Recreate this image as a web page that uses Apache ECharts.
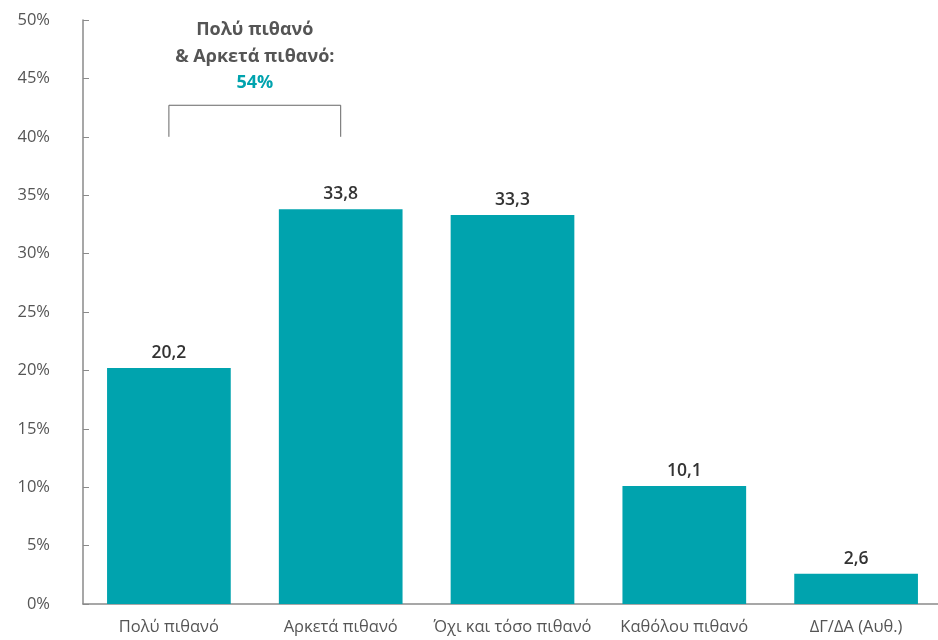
<!DOCTYPE html>
<html><head><meta charset="utf-8">
<script src="https://cdn.jsdelivr.net/npm/echarts@6/dist/echarts.min.js"></script>
<style>html,body{margin:0;padding:0;background:#fff}#c{width:938px;height:640px}</style>
</head><body><div id="c"></div>
<script>
const categories = ["Πολύ πιθανό", "Αρκετά πιθανό", "Όχι και τόσο πιθανό", "Καθόλου πιθανό", "ΔΓ/ΔΑ (Αυθ.)"];
const values = [20.2, 33.8, 33.3, 10.1, 2.6];
const annotationLines = ["Πολύ πιθανό", "& Αρκετά πιθανό:"];
const annotationTotal = "54%";
const bracketRange = [40, 42.7];

const FONT = "'Open Sans'";
const chart = echarts.init(document.getElementById('c'));
chart.setOption({
  animation: false,
  grid: { left: 83, width: 859, top: 20, bottom: 36, outerBoundsMode: 'none', containLabel: false },
  xAxis: {
    type: 'category', data: categories,
    axisLine: { lineStyle: { color: '#8a8a8a', width: 1.5 } },
    axisTick: { inside: true, length: 5, lineStyle: { color: '#8a8a8a' } },
    axisLabel: { interval: 0, color: '#555', fontSize: 16.5, fontFamily: FONT, margin: 15 }
  },
  yAxis: {
    type: 'value', min: 0, max: 50, interval: 5,
    axisLine: { show: true, lineStyle: { color: '#8a8a8a', width: 1.5 } },
    axisTick: { show: true, inside: true, length: 6, lineStyle: { color: '#8a8a8a' } },
    splitLine: { show: false },
    axisLabel: { color: '#555', fontSize: 16.5, fontFamily: FONT, margin: 33, formatter: '{value}%' }
  },
  series: [{
    type: 'bar', data: values, barWidth: '72%',
    itemStyle: { color: '#00a3ae' },
    label: { show: true, position: 'top', distance: 6, color: '#333', fontSize: 17.5, fontWeight: 600, fontFamily: FONT,
      formatter: p => String(p.value).replace('.', ',') }
  }]
});

const x0 = chart.convertToPixel({ xAxisIndex: 0 }, categories[0]);
const x1 = chart.convertToPixel({ xAxisIndex: 0 }, categories[1]);
const yB = chart.convertToPixel({ yAxisIndex: 0 }, bracketRange[0]);
const yT = chart.convertToPixel({ yAxisIndex: 0 }, bracketRange[1]);
const cx = (x0 + x1) / 2;
chart.setOption({
  graphic: [
    { type: 'polyline', shape: { points: [[x0, yB], [x0, yT], [x1, yT], [x1, yB]] }, style: { stroke: '#666', lineWidth: 1, fill: null } },
    { type: 'text', x: cx, y: yT - 75, style: { text: annotationLines[0], fill: '#555', font: 'bold 18px ' + FONT, textAlign: 'center', textVerticalAlign: 'middle' } },
    { type: 'text', x: cx, y: yT - 48, style: { text: annotationLines[1], fill: '#555', font: 'bold 18px ' + FONT, textAlign: 'center', textVerticalAlign: 'middle' } },
    { type: 'text', x: cx, y: yT - 22, style: { text: annotationTotal, fill: '#00a3ae', font: 'bold 18px ' + FONT, textAlign: 'center', textVerticalAlign: 'middle' } }
  ]
});
</script></body></html>
